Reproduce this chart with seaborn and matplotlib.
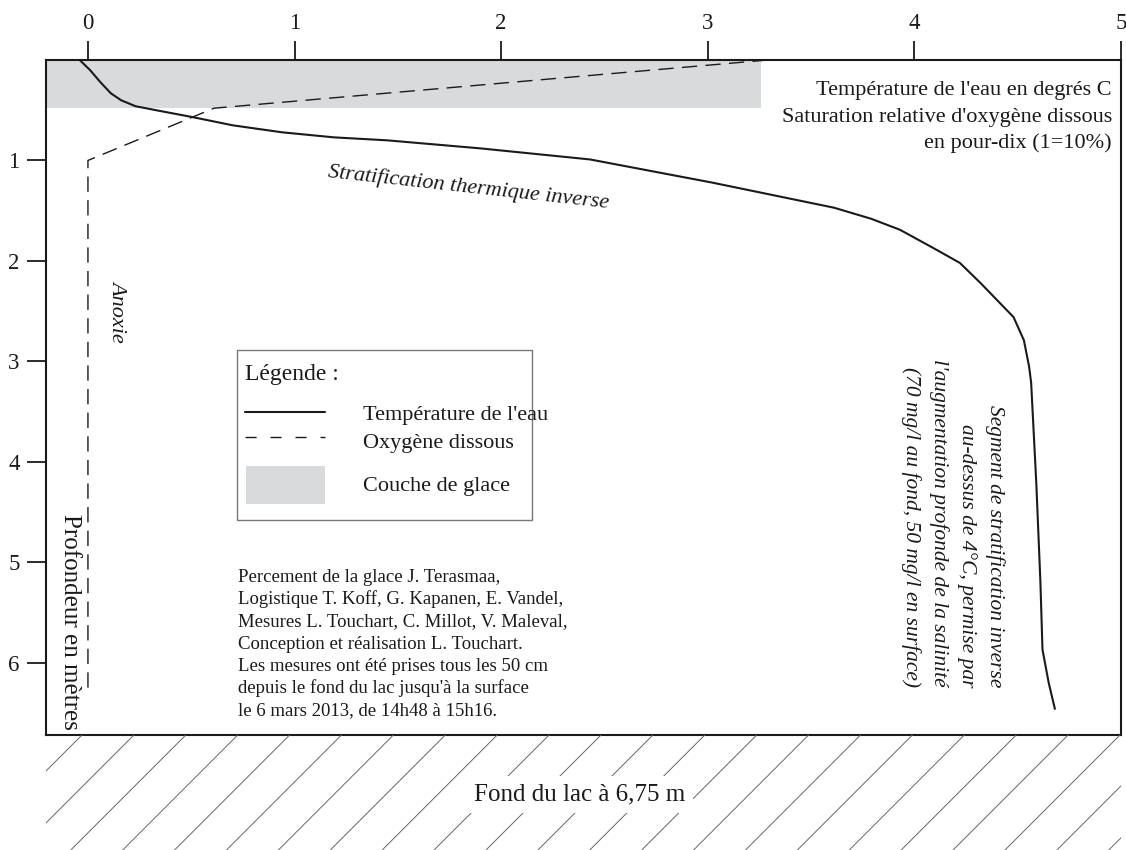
import matplotlib
matplotlib.use("Agg")
import matplotlib.pyplot as plt
from matplotlib.patches import Rectangle
import seaborn as sns

# Temperature profile (deg C) vs depth (m)
temp_c = [-0.04, 0.01, 0.06, 0.11, 0.16, 0.23, 0.33, 0.51, 0.70, 0.94, 1.19, 1.45,
          1.90, 2.43, 3.02, 3.61, 3.79, 3.93, 4.09, 4.22, 4.32, 4.40, 4.48, 4.53, 4.555,
          4.565, 4.59, 4.61, 4.62, 4.65, 4.68]
temp_depth = [0.00, 0.10, 0.22, 0.33, 0.40, 0.46, 0.50, 0.57, 0.65, 0.72, 0.77, 0.80,
              0.88, 0.99, 1.22, 1.47, 1.58, 1.69, 1.87, 2.02, 2.22, 2.39, 2.56, 2.79, 3.05,
              3.21, 4.21, 5.20, 5.87, 6.20, 6.46]

# Dissolved oxygen saturation (tenths) vs depth (m)
oxy_sat = [3.29, 0.61, 0.0, 0.0]
oxy_depth = [0.00, 0.48, 1.00, 6.30]

# Ice layer
ice_thickness = 0.48
ice_right = 3.26

x_ticks = [0, 1, 2, 3, 4, 5]
y_ticks = [1, 2, 3, 4, 5, 6]
lake_depth = 6.72

credits = [
    "Percement de la glace J. Terasmaa,",
    "Logistique T. Koff, G. Kapanen, E. Vandel,",
    "Mesures L. Touchart, C. Millot, V. Maleval,",
    "Conception et réalisation L. Touchart.",
    "Les mesures ont été prises tous les 50 cm",
    "depuis le fond du lac jusqu'à la surface",
    "le 6 mars 2013, de 14h48 à 15h16.",
]

sns.set_theme(style="white")
plt.rcParams['font.family'] = ['Liberation Serif', 'DejaVu Serif']

W, H = 1126, 850
fig = plt.figure(figsize=(W / 100, H / 100), dpi=100)
fig.patch.set_facecolor('white')

ax = fig.add_axes([46 / W, 1 - 735 / H, (1121 - 46) / W, (735 - 60) / H])
xmin = -0.203
ax.set_xlim(xmin, 5.0)
ax.set_ylim(lake_depth, 0)

# ice layer
ax.add_patch(Rectangle((xmin, 0), ice_right - xmin, ice_thickness,
                       facecolor='#d9dadc', edgecolor='none', zorder=1))

sns.lineplot(x=temp_c, y=temp_depth, sort=False, estimator=None, ax=ax,
             color='#1a1a1a', linewidth=1.5, zorder=3)
sns.lineplot(x=oxy_sat, y=oxy_depth, sort=False, estimator=None, ax=ax,
             color='#1a1a1a', linewidth=1.0, linestyle=(0, (11, 6)), zorder=3)

ax.set_xlabel('')
ax.set_ylabel('')
ax.xaxis.tick_top()
ax.set_xticks(x_ticks)
ax.set_yticks(y_ticks)
ax.tick_params(axis='x', top=True, bottom=False, direction='out', length=14,
               width=1.3, pad=5, labelsize=16.5, colors='#1a1a1a')
ax.tick_params(axis='y', left=True, direction='out', length=14, width=1.3,
               pad=5, labelsize=16.5, colors='#1a1a1a')
for s in ax.spines.values():
    s.set_visible(True)
    s.set_color('#1a1a1a')
    s.set_linewidth(1.5)

# hatched lake bottom
ground = fig.add_axes([46 / W, 0, (1121 - 46) / W, (850 - 735) / H])
ground.set_xlim(0, 1075)
ground.set_ylim(0, 115)
ground.axis('off')
for k in range(-1, 24):
    xt = 36 + 51.9 * k
    ground.plot([xt - 115, xt], [0, 115], color='#666666', linewidth=0.7)

# overlay in pixel coordinates for annotations
ov = fig.add_axes([0, 0, 1, 1])
ov.set_xlim(0, W)
ov.set_ylim(H, 0)
ov.axis('off')

ov.text(580, 800, "Fond du lac à 6,75 m", fontsize=18, ha='center', va='baseline',
        color='#1a1a1a', bbox=dict(boxstyle='square,pad=0.3', facecolor='white',
                                   edgecolor='none'))

for txt, yb in zip(["Température de l'eau en degrés C",
                    "Saturation relative d'oxygène dissous",
                    "en pour-dix (1=10%)"], [95, 122, 148]):
    ov.text(1112, yb, txt, fontsize=16, ha='right', va='baseline', color='#1a1a1a')

ov.text(468, 188, "Stratification thermique inverse", fontsize=16, style='italic',
        ha='center', va='center', rotation=-6.3, rotation_mode='anchor', color='#1a1a1a')
ov.text(118, 311, "Anoxie", fontsize=16, style='italic', ha='center', va='center',
        rotation=-90, color='#1a1a1a')
ov.text(70, 622, "Profondeur en mètres", fontsize=18, ha='center', va='center',
        rotation=-90, color='#1a1a1a')

ov.text(953, 687, "Segment de stratification inverse\nau-dessus de 4°C, permise par\n"
        "l'augmentation profonde de la salinité\n(70 mg/l au fond, 50 mg/l en surface)",
        fontsize=15.5, style='italic', ha='center', va='bottom', rotation=-90,
        multialignment='right', linespacing=1.55, color='#1a1a1a')

for i, line in enumerate(credits):
    ov.text(238, 582 + 22.2 * i, line, fontsize=13.5, ha='left', va='baseline',
            color='#1a1a1a')

# legend box
ov.add_patch(Rectangle((237, 350), 295, 170, facecolor='white', edgecolor='#777777',
                       linewidth=1.0))
ov.text(245, 380, "Légende :", fontsize=17, ha='left', va='baseline', color='#1a1a1a')
ov.plot([245, 325], [412, 412], color='#1a1a1a', linewidth=1.5)
ov.plot([245, 325], [437, 437], color='#1a1a1a', linewidth=1.0, linestyle=(0, (8, 10)))
ov.add_patch(Rectangle((246, 466), 79, 38, facecolor='#d9dadc', edgecolor='none'))
ov.text(363, 420, "Température de l'eau", fontsize=16, ha='left', va='baseline', color='#1a1a1a')
ov.text(363, 448, "Oxygène dissous", fontsize=16, ha='left', va='baseline', color='#1a1a1a')
ov.text(363, 491, "Couche de glace", fontsize=16, ha='left', va='baseline', color='#1a1a1a')

fig.savefig("out.png", dpi=100, facecolor='white')
